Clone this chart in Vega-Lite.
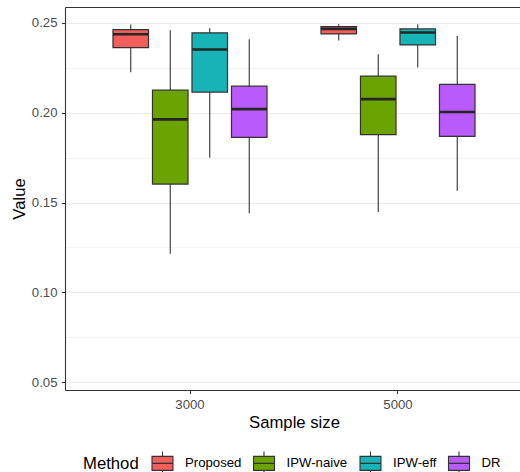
{
  "$schema": "https://vega.github.io/schema/vega-lite/v6.json",
  "autosize": "none",
  "width": 455,
  "height": 383,
  "padding": {"left": 65, "top": 7, "right": 0, "bottom": 82},
  "config": {
    "font": "Liberation Sans",
    "view": {"stroke": null},
    "axis": {
      "domain": true,
      "domainColor": "#333333",
      "domainWidth": 1.07,
      "gridColor": "#EBEBEB",
      "gridWidth": 1.07,
      "tickColor": "#333333",
      "tickWidth": 1.07,
      "tickSize": 3.6,
      "labelFontSize": 13.2,
      "labelColor": "#4D4D4D",
      "titleFontSize": 16.7,
      "titleFontWeight": "normal",
      "titleColor": "#000000"
    }
  },
  "data": {
    "values": [
      {"size": "3000", "method": "Proposed", "lo": 0.2226, "q1": 0.2363, "med": 0.2437, "q3": 0.2463, "hi": 0.2491},
      {"size": "3000", "method": "IPW-naive", "lo": 0.1215, "q1": 0.1603, "med": 0.1963, "q3": 0.2126, "hi": 0.2459},
      {"size": "3000", "method": "IPW-eff", "lo": 0.1749, "q1": 0.2115, "med": 0.2352, "q3": 0.2445, "hi": 0.2471},
      {"size": "3000", "method": "DR", "lo": 0.1441, "q1": 0.1863, "med": 0.2020, "q3": 0.2148, "hi": 0.2409},
      {"size": "5000", "method": "Proposed", "lo": 0.2402, "q1": 0.2439, "med": 0.2467, "q3": 0.2480, "hi": 0.2493},
      {"size": "5000", "method": "IPW-naive", "lo": 0.1447, "q1": 0.1878, "med": 0.2076, "q3": 0.2204, "hi": 0.2326},
      {"size": "5000", "method": "IPW-eff", "lo": 0.2252, "q1": 0.2378, "med": 0.2447, "q3": 0.2467, "hi": 0.2493},
      {"size": "5000", "method": "DR", "lo": 0.1565, "q1": 0.1869, "med": 0.2004, "q3": 0.2158, "hi": 0.2428}
    ]
  },
  "encoding": {
    "xOffset": {
      "field": "method",
      "type": "nominal",
      "scale": {"domain": ["Proposed", "IPW-naive", "IPW-eff", "DR"], "paddingInner": 0.1, "paddingOuter": 0.05}
    }
  },
  "layer": [
    {
      "mark": {"type": "rule", "stroke": "#333333", "strokeWidth": 1.1},
      "encoding": {
        "x": {
          "field": "size",
          "type": "nominal",
          "scale": {"range": [0, 458], "paddingInner": 0.2404, "paddingOuter": 0.2212},
          "axis": {
            "orient": "top",
            "title": null,
            "labels": false,
            "ticks": false,
            "grid": false,
            "domain": true
          }
        },
        "y": {
          "field": "lo",
          "type": "quantitative",
          "scale": {"domain": [0.0456, 0.2589], "nice": false, "zero": false},
          "axis": {
            "orient": "left",
            "values": [0.075, 0.125, 0.175, 0.225],
            "grid": true,
            "gridWidth": 0.53,
            "labels": false,
            "ticks": false,
            "domain": false,
            "title": null,
            "zindex": 0
          }
        },
        "y2": {"field": "hi"}
      }
    },
    {
      "mark": {"type": "bar", "stroke": "#333333", "strokeWidth": 1.2},
      "encoding": {
        "x": {
          "field": "size",
          "type": "nominal",
          "axis": {
            "orient": "bottom",
            "title": "Sample size",
            "labelAngle": 0,
            "bandPosition": 0.5,
            "labelPadding": 5,
            "titleX": 229,
            "titleY": 37.7,
            "titleBaseline": "alphabetic"
          }
        },
        "y": {
          "field": "q1",
          "type": "quantitative",
          "axis": {
            "orient": "left",
            "title": "Value",
            "values": [0.05, 0.10, 0.15, 0.20, 0.25],
            "format": ".2f",
            "grid": true,
            "labelPadding": 4.4,
            "titleAngle": -90,
            "titleX": -41,
            "titleY": 191.5,
            "titleBaseline": "alphabetic",
            "titleAlign": "center"
          }
        },
        "y2": {"field": "q3"},
        "fill": {
          "field": "method",
          "type": "nominal",
          "scale": {
            "domain": ["Proposed", "IPW-naive", "IPW-eff", "DR"],
            "range": ["#F35E5A", "#6BA300", "#16B3B7", "#B95AFA"]
          },
          "legend": {
            "orient": "none",
            "legendX": 18,
            "legendY": 443,
            "direction": "horizontal",
            "title": "Method",
            "titleOrient": "left",
            "titleFontSize": 16.7,
            "titleFontWeight": "normal",
            "titleColor": "#000000",
            "titleBaseline": "middle",
            "labelFontSize": 13.2,
            "labelColor": "#000000",
            "symbolType": "M-0.875,-0.583H0.875V0.583H-0.875Z M-0.875,0H0.875 M0,-0.583V-1 M0,0.583V1",
            "symbolSize": 576,
            "symbolStrokeColor": "#333333",
            "symbolStrokeWidth": 1.1,
            "symbolOpacity": 1,
            "labelOffset": 9.5,
            "columnPadding": 9.5,
            "titlePadding": 10.5,
            "padding": 0
          }
        }
      }
    },
    {
      "mark": {"type": "bar", "stroke": "#262626", "strokeWidth": 2.6},
      "encoding": {
        "x": {"field": "size", "type": "nominal", "axis": null},
        "y": {"field": "med", "type": "quantitative", "axis": null},
        "y2": {"field": "med"}
      }
    }
  ],
  "resolve": {"axis": {"x": "independent", "y": "independent"}}
}
